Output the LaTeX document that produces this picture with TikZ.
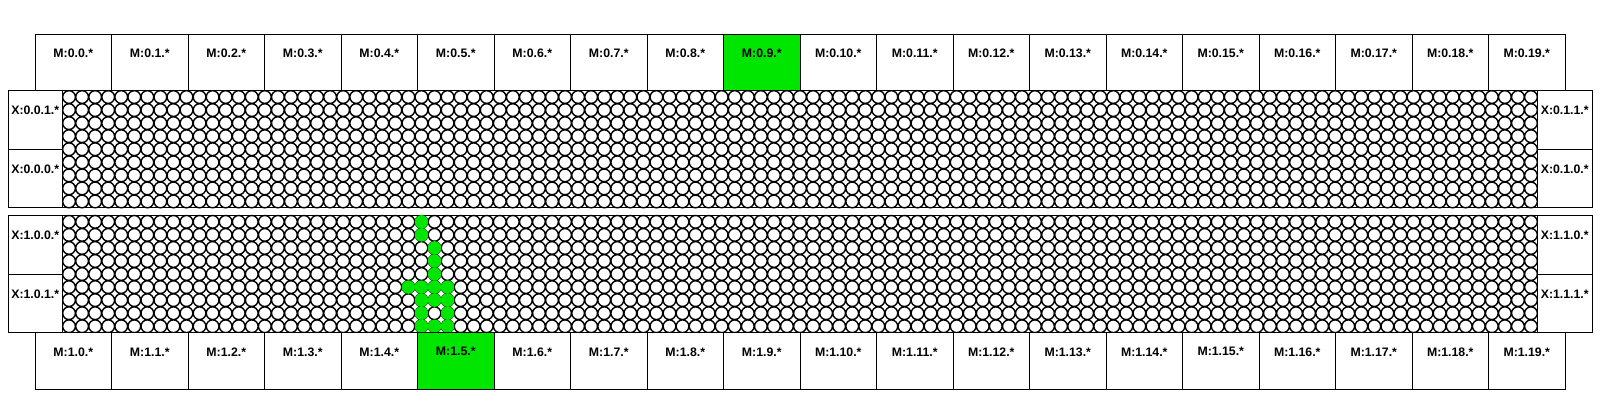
\documentclass[tikz,border=0pt]{standalone}
\usepackage{fontspec}
\setmainfont{Liberation Sans}
\definecolor{hot}{RGB}{0,230,0}
\begin{document}
\begin{tikzpicture}[x=1pt,y=-1pt,line width=1pt,
  mbox/.style={draw,fill=white,minimum width=76.5pt,minimum height=56.5pt,anchor=north west,inner sep=0pt,outer sep=0pt},
  xbox/.style={draw,fill=white,minimum width=54.5pt,minimum height=58.74pt,anchor=north west,inner sep=0pt,outer sep=0pt},
  panel/.style={draw,minimum width=1584pt,minimum height=117.48pt,anchor=north west,inner sep=0pt,outer sep=0pt},
  lab/.style={font=\fontsize{12.3}{14}\selectfont\bfseries,inner sep=0pt},
  mlab/.style={label={[lab,anchor=center,yshift=-19pt]north:{#1}}},
  xlab/.style={label={[lab,anchor=center,yshift=-20pt]north:{#1}}},
  seltop/.code={\ifnum#1=9\relax\pgfkeysalso{fill=hot}\fi},
  selbot/.code={\ifnum#1=5\relax\pgfkeysalso{fill=hot}\fi},
  cell/.style={line width=1.4pt},
  hotcell/.style={fill=hot}]
\useasboundingbox (0,0) rectangle (1600,400);
\def\s{13.053}
% panels
\node[panel] (upper) at (8,90.5) {};
\node[panel] (lower) at (8,215.3) {};
% circle grids
\draw[cell] \foreach \r in {0,...,8} {\foreach \c in {0,...,112} {({62.5+\s*(\c+0.5)},{90.5+\s*(\r+0.5)}) circle[radius=6.35]}};
\draw[cell] \foreach \r in {0,...,8} {\foreach \c in {0,...,112} {({62.5+\s*(\c+0.5)},{215.3+\s*(\r+0.5)}) circle[radius=6.35]}};
% active cells
\foreach \c/\r in {27/0,27/1,28/2,28/3,28/4,26/5,27/5,28/5,29/5,27/6,28/6,29/6,27/7,29/7,27/8,28/8,29/8}
  \fill[hotcell] ({62.5+\s*(\c+0.5)},{215.3+\s*(\r+0.5)}) circle[radius=6.75];
% X boxes
\node[xbox,xlab={X:0.0.1.*}] (x001) at (8,90.5) {};
\node[xbox,xlab={X:0.0.0.*}] (x000) at (8,149.24) {};
\node[xbox,xlab={X:0.1.1.*}] (x011) at (1537.5,90.5) {};
\node[xbox,xlab={X:0.1.0.*}] (x010) at (1537.5,149.24) {};
\node[xbox,xlab={X:1.0.0.*}] (x100) at (8,215.3) {};
\node[xbox,xlab={X:1.0.1.*}] (x101) at (8,274.04) {};
\node[xbox,xlab={X:1.1.0.*}] (x110) at (1537.5,215.3) {};
\node[xbox,xlab={X:1.1.1.*}] (x111) at (1537.5,274.04) {};
% M boxes
\foreach \i in {0,...,19} {
  \node[mbox,seltop=\i,mlab={M:0.\i.*}] (mt\i) at ({35+76.5*\i},34) {};
  \node[mbox,selbot=\i,mlab={M:1.\i.*}] (mb\i) at ({35+76.5*\i},332.8) {};
}
\end{tikzpicture}
\end{document}
